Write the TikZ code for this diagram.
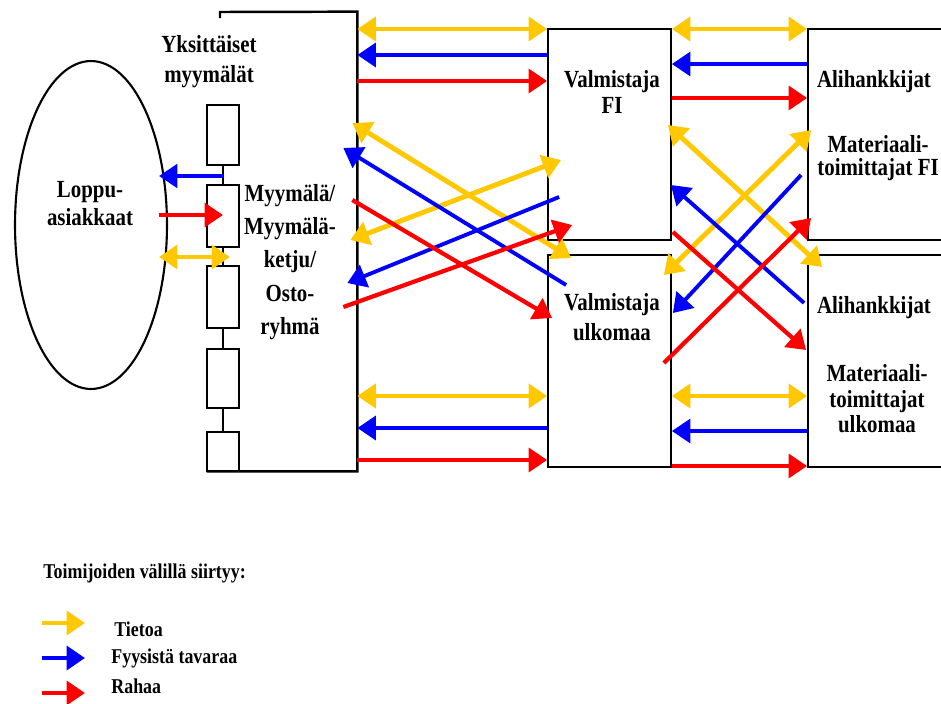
\documentclass[tikz,border=0pt]{standalone}
\usepackage{fontspec}
\setmainfont{Liberation Serif}[FakeStretch=0.85]
\usetikzlibrary{arrows.meta,positioning,calc,fit,shapes.geometric}

\definecolor{tietoyellow}{RGB}{255,200,0}
\definecolor{tavarablue}{RGB}{0,0,255}
\definecolor{rahared}{RGB}{255,0,0}

\tikzset{
  flowtip/.tip={Triangle[length=10.5pt,width=13.5pt]},
  info/.style={draw=tietoyellow, line width=2.8pt, flowtip-flowtip},
  goods/.style={draw=tavarablue, line width=2.2pt, -flowtip},
  money/.style={draw=rahared, line width=2.4pt, -flowtip},
  boxline/.style={draw, line width=1pt, inner sep=0pt},
  lbl/.style={align=center, inner sep=0pt, font=\bfseries\fontsize{14}{#1}\selectfont},
  lbl/.default=15,
  legend/.style={anchor=west, inner sep=0pt, font=\bfseries\fontsize{12}{14}\selectfont},
}

\begin{document}
\begin{tikzpicture}[x=0.02cm, y=-0.02cm]
    \useasboundingbox (0,0) rectangle (941,704);
    \clip (0,0) rectangle (941,704);

    % customers and shops
    \node (cust) [draw, ellipse, line width=1.2pt, inner sep=0pt, minimum width=3.04cm, minimum height=6.56cm] at (91,225) {};
    \node (main) [fit={(207,12) (357,471)}, inner sep=0pt] {};
    \draw[line width=1.4pt] (220,18) -- (220,12) -- (main.north east) -- (main.south east) -- (main.south west);
    \foreach \i/\ya/\yb in {1/105/165, 2/185/247, 3/266/328, 4/349/408, 5/432/471}
        \node (shop\i) [fit={(207,\ya) (239,\yb)}, boxline, line width=1.4pt] {};
    \foreach \i [count=\j from 2] in {1,...,4}
        \draw[line width=1.4pt] (shop\i) -- (shop\j);

    % producers and suppliers
    \node (valfi) [fit={(548,29) (671,240)}, boxline] {};
    \node (valulk) [fit={(548,255) (671,467)}, boxline] {};
    \node (alifi) [fit={(808,29) (960,240)}, boxline] {};
    \node (aliulk) [fit={(808,255) (960,467)}, boxline] {};

    \node (custlbl) [lbl=16] at (90,204) {Loppu-\\asiakkaat};
    \node (shopslbl) [lbl=17] at (209,62) {Yksittäiset\\myymälät};
    \node (mainlbl) [lbl=19] at (290,262) {Myymälä/\\Myymälä-\\ketju/\\Osto-\\ryhmä};
    \node (valfilbl) [lbl=15] at (612,92) {Valmistaja\\FI};
    \node (valulklbl) [lbl=17] at (612,317) {Valmistaja\\ulkomaa};
    \node (alifilbl) [lbl] at (874,82) {Alihankkijat};
    \node (materfilbl) [lbl=13] at (878,158) {Materiaali-\\toimittajat FI};
    \node (aliulklbl) [lbl] at (874,308) {Alihankkijat};
    \node (materulklbl) [lbl=14.5] at (877,399) {Materiaali-\\toimittajat\\ulkomaa};

    % flows to the customers
    \draw[goods] (shop1.south |- 0,176) -- ($(cust.east |- 0,176)+(-9,0)$);
    \draw[money] ($(cust.east |- 0,215)+(-9,0)$) -- (shop2.center |- 0,215);
    \draw[info] ($(cust.east |- 0,257)+(-9,0)$) -- ($(shop2.south |- 0,257)+(7,0)$);

    % straight flows
    \foreach \a/\b/\ya/\yb/\yc in {main/valfi/29/55/81, main/valulk/396/428/460, valfi/alifi/29/64/98, valulk/aliulk/396/431/466} {
        \draw[info] (\a.east |- 0,\ya) -- (\b.west |- 0,\ya);
        \draw[goods] (\b.west |- 0,\yb) -- (\a.east |- 0,\yb);
        \draw[money] (\a.east |- 0,\yc) -- (\b.west |- 0,\yc);
    }

    % crossing flows
    \foreach \s/\p/\dp/\yp/\q/\dq/\yq in {
        info/main.east/-5/123/valulk.west/24/258,
        info/main.east/-7/240/valfi.west/14/160,
        goods/valulk.west/19/285/main.east/-14/148,
        goods/valfi.west/12/197/main.east/-10/283,
        money/main.east/-5/200/valulk.west/5/318,
        money/main.east/-14/307/valfi.west/25/225,
        info/valfi.east/-4/125/aliulk.west/15/267,
        info/alifi.west/4/130/valulk.east/-8/275,
        goods/aliulk.west/-3/303/valfi.east/-1/185,
        goods/alifi.west/-6/175/valulk.east/1/313,
        money/valfi.east/1/232/aliulk.west/-1/350,
        money/valulk.east/-8/363/alifi.west/4/218}
        \draw[\s] ($(\p |- 0,\yp)+(\dp,0)$) -- ($(\q |- 0,\yq)+(\dq,0)$);

    % legend
    \node (legtitle) [legend] at (43,573) {Toimijoiden välillä siirtyy:};
    \node (legtieto) [legend] at (114,629) {Tietoa};
    \node (legtavara) [legend] at (111,658) {Fyysistä tavaraa};
    \node (legraha) [legend] at (111,686) {Rahaa};
    \draw[info, -flowtip] (42,623) -- (85,623);
    \draw[goods, line width=2.8pt] (42,658) -- (85,658);
    \draw[money, line width=2.8pt] (42,693) -- (85,693);
\end{tikzpicture}
\end{document}
